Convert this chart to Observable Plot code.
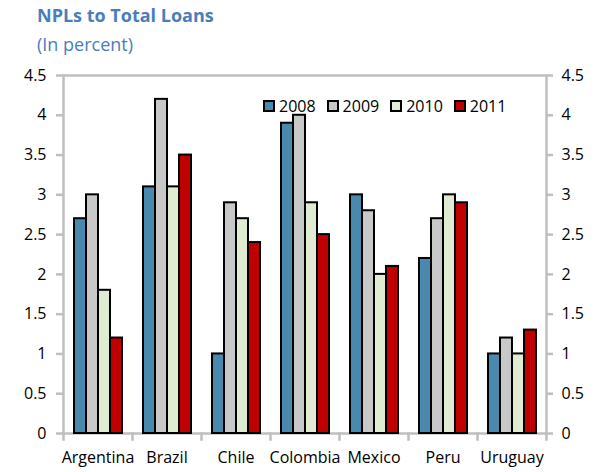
<!DOCTYPE html>
<html>
<head>
<meta charset="utf-8">
<script src="https://cdn.jsdelivr.net/npm/d3@7"></script>
<script src="https://cdn.jsdelivr.net/npm/@observablehq/plot@0.6"></script>
<style>
  html, body { margin: 0; padding: 0; background: #fff; }
  #wrap { position: relative; width: 597px; height: 472px; font-family: "Open Sans", sans-serif; }
  #title { position: absolute; left: 37px; top: 6px; font-size: 18px; line-height: 18px; font-weight: bold; color: #4a7ebb; white-space: nowrap; }
  #subtitle { position: absolute; left: 37px; top: 34.5px; font-size: 18px; line-height: 18px; color: #4a7ebb; white-space: nowrap; }
  #legend { position: absolute; left: 263px; top: 97.5px; display: flex; align-items: center; font-size: 16px; line-height: 16px; color: #000; }
  #legend .item { display: flex; align-items: center; margin-right: 11px; }
  #legend .sw { width: 12px; height: 12px; box-sizing: border-box; border: 2px solid #000; margin-right: 4px; }
  #chart { position: absolute; left: 0; top: 0; }
</style>
</head>
<body>
<div id="wrap">
  <div id="chart"></div>
  <div id="title"></div>
  <div id="subtitle"></div>
  <div id="legend"></div>
</div>
<script>
const titleText = "NPLs to Total Loans";
const subtitleText = "(In percent)";
const countries = ["Argentina", "Brazil", "Chile", "Colombia", "Mexico", "Peru", "Uruguay"];
const years = ["2008", "2009", "2010", "2011"];
const v2008 = [2.7, 3.1, 1.0, 3.9, 3.0, 2.2, 1.0];
const v2009 = [3.0, 4.2, 2.9, 4.0, 2.8, 2.7, 1.2];
const v2010 = [1.8, 3.1, 2.7, 2.9, 2.0, 3.0, 1.0];
const v2011 = [1.2, 3.5, 2.4, 2.5, 2.1, 2.9, 1.3];
const yTicks = [0, 0.5, 1, 1.5, 2, 2.5, 3, 3.5, 4, 4.5];

const series = [v2008, v2009, v2010, v2011];
const fills = ["#4a89ae", "#c8c8c8", "#dfecd2", "#c00000"];

const data = countries.flatMap((c, i) => series.map((s, j) => ({country: c, year: years[j], value: s[i]})));

const W = 597, H = 472, MT = 75, MB = 39, ML = 61, MR = 50;
const axisGray = "#bfbfbf";
const fmt = d => String(d);

const plot = Plot.plot({
  width: W,
  height: H,
  marginTop: MT,
  marginBottom: MB,
  marginLeft: ML,
  marginRight: MR,
  style: {fontFamily: "Open Sans", fontSize: "16px", color: "#000", background: "transparent"},
  fx: {domain: countries, padding: 0, round: true, label: null},
  x: {domain: years, paddingInner: 0, paddingOuter: 0.69, axis: null},
  y: {domain: [0, 4.5], label: null},
  color: {domain: years, range: fills},
  marks: [
    Plot.ruleY([0, 4.5], {stroke: axisGray, strokeWidth: 2.5}),
    Plot.frame({anchor: "left", facetAnchor: "left", stroke: axisGray, strokeWidth: 2.5}),
    Plot.frame({anchor: "right", facetAnchor: "right", stroke: axisGray, strokeWidth: 2.5}),
    Plot.frame({anchor: "left", insetTop: H - MT - MB, insetBottom: -6, stroke: axisGray, strokeWidth: 2.5}),
    Plot.frame({anchor: "right", facetAnchor: "right", insetTop: H - MT - MB, insetBottom: -6, stroke: axisGray, strokeWidth: 2.5}),
    Plot.barY(data, {fx: "country", x: "year", y: "value", fill: "year", stroke: "#000", strokeWidth: 2}),
    Plot.axisY({anchor: "left", ticks: yTicks, tickFormat: fmt, tickSize: 7, tickPadding: 10, stroke: axisGray, strokeWidth: 2.5, label: null}),
    Plot.axisY({anchor: "right", ticks: yTicks, tickFormat: fmt, tickSize: 6, tickPadding: 9, stroke: axisGray, strokeWidth: 2.5, label: null}),
    Plot.axisFx({anchor: "bottom", tickSize: 0, tickPadding: 18, label: null})
  ]
});

document.getElementById("chart").appendChild(plot);
document.getElementById("title").textContent = titleText;
document.getElementById("subtitle").textContent = subtitleText;

const legend = d3.select("#legend");
years.forEach((y, j) => {
  const item = legend.append("div").attr("class", "item");
  item.append("div").attr("class", "sw").style("background", fills[j]);
  item.append("span").text(y);
});
</script>
</body>
</html>
